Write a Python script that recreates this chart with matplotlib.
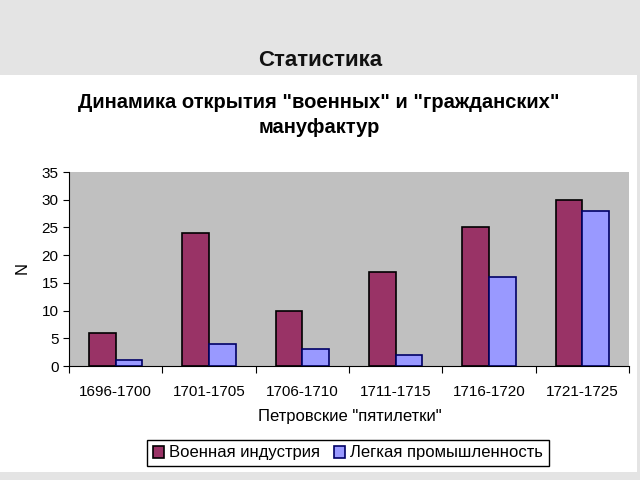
import numpy as np
import matplotlib.pyplot as plt
from matplotlib.patches import Rectangle

plt.rcParams['font.family'] = ['Liberation Sans', 'DejaVu Sans']

# ===== data =====
periods = ['1696-1700', '1701-1705', '1706-1710', '1711-1715', '1716-1720', '1721-1725']
military = [6, 24, 10, 17, 25, 30]
light = [1, 4, 3, 2, 16, 28]
series_names = ['Военная индустрия', 'Легкая промышленность']

W, H = 640, 480
fig = plt.figure(figsize=(6.4, 4.8), dpi=100, facecolor='#e4e4e4')

# white slide panel (behind the chart)
fig.patches.append(Rectangle((0, 1 - 472 / H), 637 / W, (472 - 75) / H,
                             transform=fig.transFigure, facecolor='white',
                             edgecolor='none', zorder=-10))

fig.text(320 / W, 1 - 60 / H, 'Статистика', ha='center', va='center',
         fontsize=16, fontweight='bold', color='#111111')
fig.text(319 / W, 1 - 115 / H, 'Динамика открытия "военных" и "гражданских"\nмануфактур',
         ha='center', va='center', fontsize=14.5, fontweight='bold',
         linespacing=1.45, color='black')

ax = fig.add_axes([69 / W, 1 - 366 / H, 560 / W, 194 / H])
ax.set_facecolor('#c0c0c0')

x = np.arange(len(periods))
w = 0.286
ax.bar(x - w / 2, military, w, color='#993366', edgecolor='black', linewidth=1.2,
       label=series_names[0])
ax.bar(x + w / 2, light, w, color='#9999ff', edgecolor='#000066', linewidth=1.2,
       label=series_names[1])

ax.set_xlim(-0.5, len(periods) - 0.5)
ax.set_ylim(0, 35)
ax.set_yticks(range(0, 36, 5))
ax.set_xticks(np.arange(len(periods) + 1) - 0.5)
ax.set_xticklabels([])
ax.set_xticks(x, minor=True)
ax.set_xticklabels(periods, minor=True)
ax.tick_params(axis='x', which='major', length=5, direction='out')
ax.tick_params(axis='x', which='minor', length=0, pad=14, labelsize=11)
ax.tick_params(axis='y', length=4, direction='out', labelsize=11)

for s in ['top', 'right']:
    ax.spines[s].set_visible(False)

fig.text(350 / W, 1 - 417 / H, 'Петровские "пятилетки"', ha='center', va='center',
         fontsize=12)
fig.text(22 / W, 1 - 268 / H, 'N', ha='center', va='center', rotation=90,
         fontsize=12)

fig.legend(loc='center', bbox_to_anchor=(348 / W, 1 - 453 / H), ncol=2,
           fancybox=False, edgecolor='black', framealpha=1, fontsize=12,
           handlelength=0.7, handleheight=0.7, handletextpad=0.3,
           columnspacing=0.8, borderpad=0.35)

plt.savefig('out.png', dpi=100, facecolor=fig.get_facecolor())
